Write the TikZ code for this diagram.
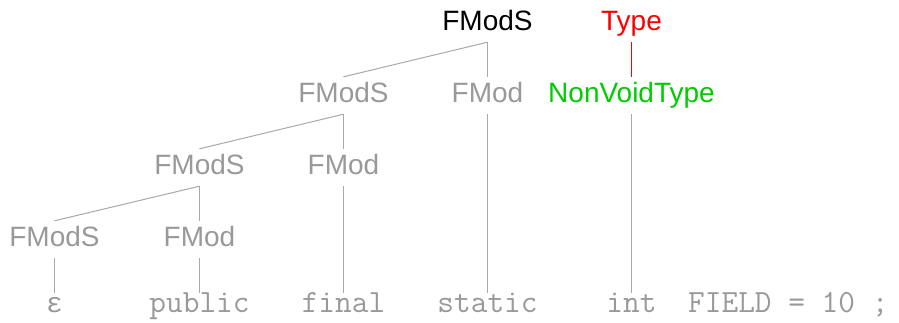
\documentclass[tikz,border=0pt]{standalone}
\usepackage{fontspec}
\setmainfont{Liberation Sans}
\newfontfamily\greekmono{Liberation Mono}
\usepackage{tikz}
\definecolor{nodegray}{HTML}{999999}
\definecolor{edgegray}{HTML}{A8A8A8}
\definecolor{typegreen}{HTML}{00CC00}
\definecolor{typered}{HTML}{FF0000}

\begin{document}
\begin{tikzpicture}[x=1pt, y=-1pt,
    sym/.style={font=\fontsize{28}{34}\selectfont, inner sep=0pt, anchor=base,
      text height=25pt, text depth=12pt, text=nodegray},
    tok/.style={font=\ttfamily\fontsize{32.4}{38}\selectfont, inner sep=0pt, anchor=base,
      text height=19pt, text depth=8pt, text=nodegray},
    edge/.style={color=edgegray, line width=1pt},
    redge/.style={color=typered, line width=1pt}]
  \useasboundingbox (0,0) rectangle (899,322);

  % nonterminals
  \node [sym, text=black] (fmods1) at (487.5,30) {FModS};
  \node [sym, text=typered] (type) at (631.5,30) {Type};
  \node [sym] (fmods2) at (343.5,102) {FModS};
  \node [sym] (fmod2) at (487.5,102) {FMod};
  \node [sym, text=typegreen] (nvtype) at (631.5,102) {NonVoidType};
  \node [sym] (fmods3) at (199.5,174) {FModS};
  \node [sym] (fmod3) at (343.5,174) {FMod};
  \node [sym] (fmods4) at (54.5,246) {FModS};
  \node [sym] (fmod4) at (199.5,246) {FMod};

  % tokens
  \node [tok, font=\greekmono\fontsize{28}{34}\selectfont] (eps) at (54.5,312) {ε};
  \node [tok] (public) at (199.5,312) {public};
  \node [tok] (final) at (343.5,312) {final};
  \node [tok] (static) at (487.5,312) {static};
  \node [tok] (int) at (631.5,312) {int};
  \node [tok, anchor=base west] (rest) at (688,312) {FIELD = 10 ;};

  % edges
  \draw [edge] (fmods1.south) -- (fmods2.north);
  \draw [edge] (fmods1.south) -- (fmod2.north);
  \draw [redge] (type.south) -- (nvtype.north);
  \draw [edge] (fmods2.south) -- (fmods3.north);
  \draw [edge] (fmods2.south) -- (fmod3.north);
  \draw [edge] (fmods3.south) -- (fmods4.north);
  \draw [edge] (fmods3.south) -- (fmod4.north);
  \draw [edge] (fmods4.south) -- (eps.north);
  \draw [edge] (fmod4.south) -- (public.north);
  \draw [edge] (fmod3.south) -- (final.north);
  \draw [edge] (fmod2.south) -- (static.north);
  \draw [edge] (nvtype.south) -- (int.north);
\end{tikzpicture}
\end{document}
